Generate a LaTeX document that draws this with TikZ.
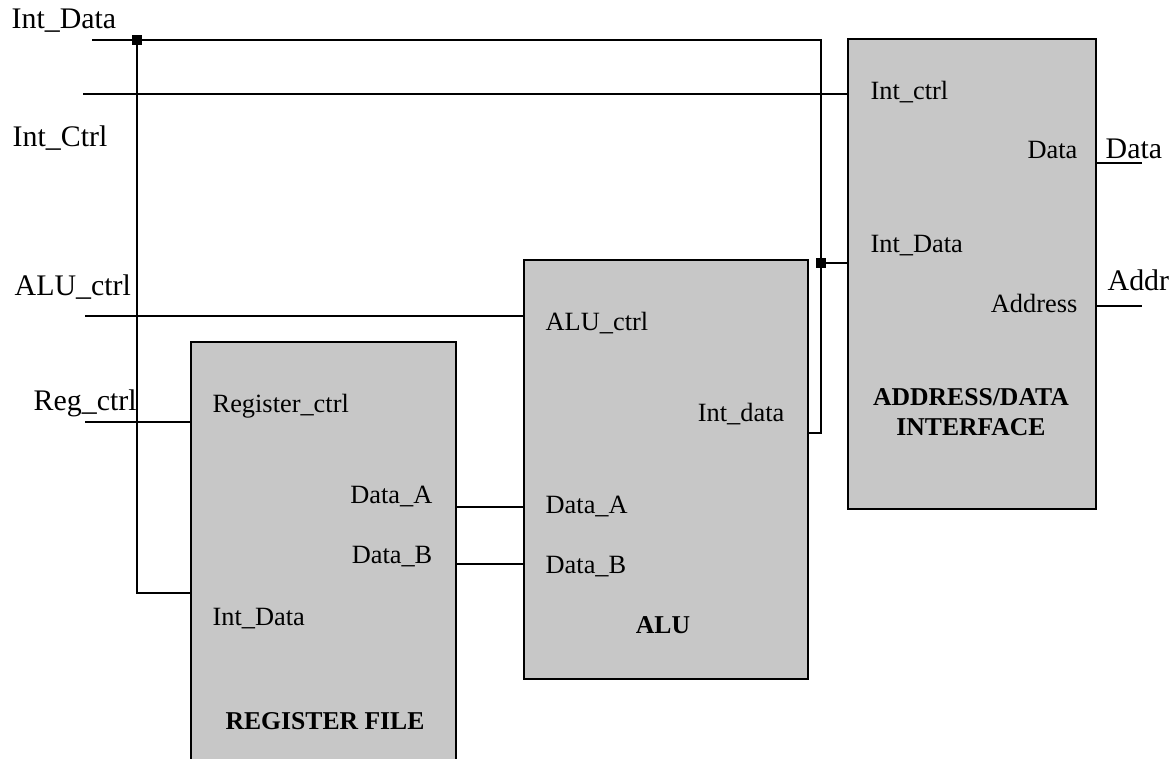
\documentclass[tikz,border=0pt]{standalone}
\usepackage{fontspec}
\setmainfont{Liberation Serif}
\usetikzlibrary{positioning}

\tikzset{
  block/.style={draw, line width=0.65pt, fill=black!22, anchor=north west, inner sep=0pt},
  sig/.style={line width=0.5pt},
  pinl/.style={font=\fontsize{7.5}{9}\selectfont, inner sep=0pt, anchor=base west},
  pinr/.style={font=\fontsize{7.5}{9}\selectfont, inner sep=0pt, anchor=base east},
  extlabel/.style={font=\fontsize{8.5}{10}\selectfont, inner sep=0pt, anchor=base west},
  title/.style={font=\fontsize{7.3}{8.6}\selectfont\bfseries, align=center, inner sep=0pt},
  junction/.style={fill, rectangle, minimum size=0.1cm, inner sep=0pt},
}

\begin{document}
\begin{tikzpicture}
  \useasboundingbox (0,0) rectangle (11.69,-7.58);

  % Blocks
  \node[block, minimum width=2.65cm, minimum height=4.25cm] (regfile) at (1.90,-3.41) {};
  \node[block, minimum width=2.84cm, minimum height=4.19cm] (alu) at (5.23,-2.59) {};
  \node[block, minimum width=2.48cm, minimum height=4.70cm] (adif) at (8.47,-0.38) {};

  % --- Register file ---
  \node[pinl] (rf-ctrl) at (2.12,-4.12) {Register\_ctrl};
  \node[pinr] (rf-a) at (4.33,-5.03) {Data\_A};
  \node[pinr] (rf-b) at (4.33,-5.63) {Data\_B};
  \node[pinl] (rf-int) at (2.12,-6.25) {Int\_Data};
  \node[title, anchor=base] (rf-name) at (3.25,-7.29) {REGISTER FILE};

  % --- ALU ---
  \node[pinl] (alu-ctrl) at (5.45,-3.30) {ALU\_ctrl};
  \node[pinr] (alu-out) at (7.85,-4.21) {Int\_data};
  \node[pinl] (alu-a) at (5.45,-5.13) {Data\_A};
  \node[pinl] (alu-b) at (5.45,-5.73) {Data\_B};
  \node[title, anchor=base] (alu-name) at (6.63,-6.33) {ALU};

  % --- Address/data interface ---
  \node[pinl] (ad-ctrl) at (8.70,-0.99) {Int\_ctrl};
  \node[pinr] (ad-data) at (10.78,-1.58) {Data};
  \node[pinl] (ad-int) at (8.70,-2.52) {Int\_Data};
  \node[pinr] (ad-addr) at (10.78,-3.12) {Address};
  \node[title] (ad-name) at (9.71,-4.12) {ADDRESS/DATA\\INTERFACE};

  % External signal names
  \node[extlabel] (lbl-data) at (0.11,-0.28) {Int\_Data};
  \node[extlabel] (lbl-ctrl) at (0.12,-1.46) {Int\_Ctrl};
  \node[extlabel] (lbl-alu) at (0.14,-2.95) {ALU\_ctrl};
  \node[extlabel] (lbl-reg) at (0.33,-4.10) {Reg\_ctrl};
  \node[extlabel] (lbl-dout) at (11.05,-1.58) {Data};
  \node[extlabel] (lbl-aout) at (11.07,-2.90) {Addr};

  % Pin points
  \coordinate (in-data) at (0.92,-0.40);
  \coordinate (in-ctrl) at (0.83,-0.94);
  \coordinate (in-alu) at (0.85,-3.16);
  \coordinate (in-reg) at (0.85,-4.22);
  \coordinate (bend) at (8.21,-0.40);
  \coordinate (rf-int-pin) at (1.90,-5.93);
  \coordinate (rf-ctrl-pin) at (1.90,-4.22);
  \coordinate (rf-a-pin) at (4.55,-5.07);
  \coordinate (rf-b-pin) at (4.55,-5.64);
  \coordinate (alu-ctrl-pin) at (5.23,-3.16);
  \coordinate (alu-a-pin) at (5.23,-5.07);
  \coordinate (alu-b-pin) at (5.23,-5.64);
  \coordinate (alu-out-pin) at (8.07,-4.33);
  \coordinate (ad-ctrl-pin) at (8.47,-0.94);
  \coordinate (ad-int-pin) at (8.47,-2.63);
  \coordinate (ad-data-pin) at (10.95,-1.63);
  \coordinate (ad-addr-pin) at (10.95,-3.06);
  \coordinate (out-data) at (11.42,-1.63);
  \coordinate (out-addr) at (11.42,-3.06);

  % Junctions
  \node[junction] (j1) at (1.37,-0.40) {};
  \node[junction] (j2) at (8.21,-2.63) {};

  % Internal data bus
  \draw[sig] (in-data) -- (j1.center) -- (bend) -- (j2.center) |- (alu-out-pin);
  \draw[sig] (j1.center) |- (rf-int-pin);
  \draw[sig] (j2.center) -- (ad-int-pin);

  % Control lines
  \draw[sig] (in-ctrl) -- (ad-ctrl-pin);
  \draw[sig] (in-alu) -- (alu-ctrl-pin);
  \draw[sig] (in-reg) -- (rf-ctrl-pin);

  % Operands
  \draw[sig] (rf-a-pin) -- (alu-a-pin);
  \draw[sig] (rf-b-pin) -- (alu-b-pin);

  % Outputs
  \draw[sig] (ad-data-pin) -- (out-data);
  \draw[sig] (ad-addr-pin) -- (out-addr);
\end{tikzpicture}
\end{document}
